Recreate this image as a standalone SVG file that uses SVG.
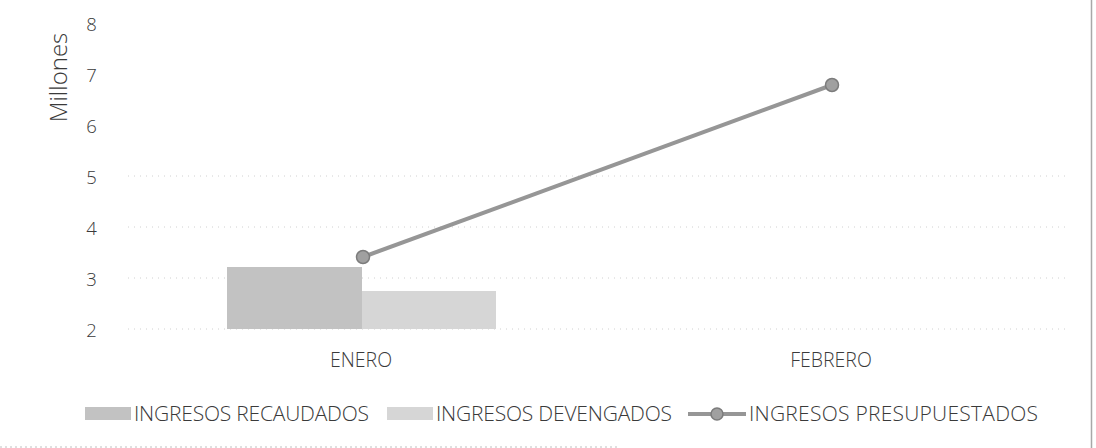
<svg xmlns="http://www.w3.org/2000/svg" width="1096" height="448" viewBox="0 0 1096 448">
<defs>
<style>
.t{font-family:"Open Sans","Liberation Sans",sans-serif;font-weight:300;fill:#3a3a3a;}
.ax{font-size:18.5px;text-anchor:middle;}
.cat{font-size:19.5px;text-anchor:middle;}
.lg{font-size:21px;}
.grid{stroke:#d0d0d0;stroke-width:1;stroke-dasharray:1 5;}
.rec{fill:#c2c2c2;}
.dev{fill:#d6d6d6;}
.pl{stroke:#969696;stroke-width:4;fill:none;}
.mk{fill:#a0a0a0;stroke:#7c7c7c;stroke-width:1.5;}
</style>
</defs>
<rect width="1096" height="448" fill="#ffffff"/>
<g id="grid">
<line class="grid" x1="128" y1="176" x2="1065" y2="176"/>
<line class="grid" x1="128" y1="227" x2="1065" y2="227"/>
<line class="grid" x1="128" y1="278" x2="1065" y2="278"/>
<line class="grid" x1="128" y1="329" x2="1065" y2="329"/>
</g>
<g id="yaxis">
<text class="t" x="67" y="77.5" font-size="24" text-anchor="middle" transform="rotate(-90 67 77.5)">Millones</text>
<text class="t ax" x="91.5" y="30.5">8</text>
<text class="t ax" x="91.5" y="81.5">7</text>
<text class="t ax" x="91.5" y="133">6</text>
<text class="t ax" x="91.5" y="184">5</text>
<text class="t ax" x="91.5" y="234.5">4</text>
<text class="t ax" x="91.5" y="285.5">3</text>
<text class="t ax" x="91.5" y="336.5">2</text>
</g>
<g id="bars">
<rect class="rec" x="227" y="267" width="135" height="62"/>
<rect class="dev" x="362" y="291" width="134" height="38"/>
</g>
<g id="connectors">
<line class="pl" x1="363" y1="257" x2="832" y2="85"/>
</g>
<g id="m-enero"><circle class="mk" cx="363" cy="257" r="6.5"/></g>
<g id="m-febrero"><circle class="mk" cx="832" cy="85" r="6.5"/></g>
<g id="xaxis">
<text class="t cat" x="361" y="367">ENERO</text>
<text class="t cat" x="831" y="367">FEBRERO</text>
</g>
<g id="legend">
<rect class="rec" x="85" y="407" width="46" height="13"/>
<text class="t lg" x="134" y="421" textLength="235" lengthAdjust="spacing">INGRESOS RECAUDADOS</text>
<rect class="dev" x="387" y="407" width="46" height="13"/>
<text class="t lg" x="436" y="421" textLength="236" lengthAdjust="spacing">INGRESOS DEVENGADOS</text>
<line class="pl" x1="688" y1="414" x2="746" y2="414" stroke-width="3.5"/>
<circle class="mk" cx="717" cy="414" r="6"/>
<text class="t lg" x="749" y="421" textLength="289" lengthAdjust="spacing">INGRESOS PRESUPUESTADOS</text>
</g>
<g id="frame">
<line x1="1091.5" y1="0" x2="1091.5" y2="448" stroke="#a8a8a8" stroke-width="1.5"/>
<line x1="0" y1="447" x2="620" y2="447" stroke="#c0c0c0" stroke-width="1" stroke-dasharray="2 3"/>
</g>
</svg>
